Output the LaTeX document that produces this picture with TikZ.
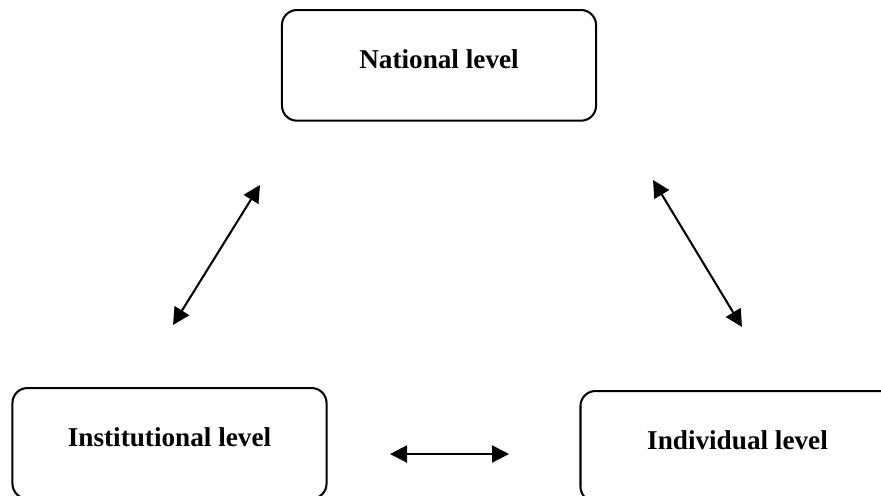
\documentclass[tikz,border=0pt]{standalone}
\usepackage{fontspec}
\setmainfont{Liberation Serif}
\usetikzlibrary{arrows.meta,positioning}
\tikzset{
  >={Triangle[length=7.5pt,width=7.5pt]},
  levelbox/.style={
    rectangle,
    rounded corners=6.6pt,
    draw=black, line width=0.9pt,
    minimum width=138.5pt,
    text height=26pt,
    text depth=22.8pt,
    inner sep=0pt,
    font=\fontsize{12}{14}\selectfont\bfseries,
    anchor=north},
  link/.style={draw, line width=0.9pt, <->},
}
\begin{document}
\begin{tikzpicture}[x=0.441pt,y=-0.441pt]
  \useasboundingbox (0,0) rectangle (881,495);
  % the three levels
  \node[levelbox] (national) at (439,9) {National level};
  \node[levelbox] (institutional) at (169.5,387) {Institutional level};
  \node[levelbox] (individual) at (737.5,390) {Individual level};
  % free ends of the links
  \coordinate (natleft) at (260,185);
  \coordinate (instup) at (173,325);
  \coordinate (natright) at (653,180);
  \coordinate (indup) at (742,327);
  \coordinate (instright) at (390,454);
  \coordinate (indleft) at (509,454);
  \path[link] (instup) -- (natleft);
  \path[link] (natright) -- (indup);
  \path[link] (instright) -- (indleft);
\end{tikzpicture}
\end{document}
